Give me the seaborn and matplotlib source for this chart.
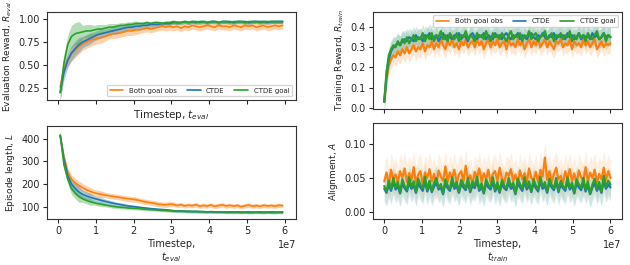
import numpy as np
import pandas as pd
import matplotlib
matplotlib.use("Agg")
import matplotlib.pyplot as plt
import seaborn as sns

sns.set_style("ticks")
plt.rcParams['font.family'] = ['DejaVu Sans']
plt.rcParams['mathtext.fontset'] = 'dejavusans'

labels = ['Both goal obs', 'CTDE', 'CTDE goal']
colors = ['tab:orange', 'tab:blue', 'tab:green']

# evaluation timesteps (x 1e7)
t_eval = np.arange(60) * 0.1 + 0.05
# training timesteps (x 1e7)
t_train = np.arange(101) * 0.06

eval_reward = {
    'Both goal obs': [0.26, 0.46, 0.55, 0.62, 0.66, 0.70, 0.73, 0.75, 0.77, 0.78,
                      0.79, 0.80, 0.81, 0.83, 0.84, 0.84, 0.85, 0.86, 0.87, 0.87,
                      0.88, 0.88, 0.89, 0.90, 0.89, 0.90, 0.91, 0.92, 0.91, 0.92,
                      0.91, 0.92, 0.90, 0.92, 0.91, 0.93, 0.92, 0.91, 0.92, 0.93,
                      0.92, 0.91, 0.93, 0.92, 0.92, 0.91, 0.93, 0.92, 0.91, 0.93,
                      0.92, 0.93, 0.91, 0.92, 0.93, 0.91, 0.92, 0.93, 0.92, 0.93],
    'CTDE': [0.20, 0.42, 0.55, 0.63, 0.68, 0.72, 0.75, 0.77, 0.79, 0.81,
             0.83, 0.84, 0.85, 0.86, 0.87, 0.88, 0.89, 0.90, 0.91, 0.91,
             0.92, 0.92, 0.93, 0.93, 0.94, 0.94, 0.94, 0.95, 0.95, 0.95,
             0.96, 0.96, 0.96, 0.97, 0.96, 0.97, 0.96, 0.97, 0.97, 0.96,
             0.97, 0.97, 0.96, 0.97, 0.97, 0.97, 0.96, 0.97, 0.97, 0.97,
             0.96, 0.97, 0.97, 0.97, 0.97, 0.96, 0.97, 0.97, 0.97, 0.97],
    'CTDE goal': [0.20, 0.52, 0.72, 0.81, 0.84, 0.85, 0.86, 0.87, 0.87, 0.88,
                  0.89, 0.89, 0.90, 0.91, 0.91, 0.92, 0.93, 0.93, 0.94, 0.94,
                  0.95, 0.95, 0.95, 0.96, 0.95, 0.96, 0.96, 0.95, 0.96, 0.96,
                  0.97, 0.96, 0.96, 0.97, 0.96, 0.97, 0.97, 0.96, 0.97, 0.96,
                  0.97, 0.97, 0.96, 0.97, 0.97, 0.96, 0.97, 0.97, 0.97, 0.96,
                  0.97, 0.97, 0.97, 0.96, 0.97, 0.97, 0.97, 0.97, 0.97, 0.97],
}
# band half-widths, one value per 3 eval points
eval_reward_spread = {
    'Both goal obs': [0.06, 0.08, 0.07, 0.06, 0.05, 0.05, 0.05, 0.04, 0.04, 0.04,
                      0.04, 0.04, 0.04, 0.04, 0.04, 0.04, 0.04, 0.04, 0.04, 0.04],
    'CTDE': [0.08, 0.08, 0.06, 0.05, 0.04, 0.04, 0.03, 0.03, 0.03, 0.02,
             0.02, 0.02, 0.02, 0.02, 0.02, 0.02, 0.02, 0.02, 0.02, 0.02],
    'CTDE goal': [0.10, 0.12, 0.07, 0.05, 0.04, 0.03, 0.03, 0.02, 0.02, 0.02,
                  0.02, 0.02, 0.02, 0.02, 0.02, 0.02, 0.02, 0.02, 0.02, 0.02],
}

episode_length = {
    'Both goal obs': [415, 320, 255, 222, 205, 194, 184, 175, 168, 162,
                      158, 155, 152, 149, 146, 144, 141, 138, 136, 134,
                      132, 128, 124, 121, 118, 116, 112, 110, 109, 112,
                      111, 106, 110, 104, 108, 105, 110, 103, 106, 104,
                      108, 102, 106, 109, 104, 107, 103, 106, 101, 105,
                      108, 103, 106, 102, 107, 104, 106, 103, 107, 105],
    'CTDE': [415, 310, 238, 200, 180, 165, 155, 148, 142, 137,
             133, 128, 124, 120, 116, 113, 110, 107, 104, 102,
             100, 98, 96, 94, 92, 91, 89, 88, 87, 85,
             83, 82, 82, 81, 80, 80, 79, 79, 78, 78,
             78, 77, 77, 77, 76, 76, 76, 76, 75, 76,
             75, 75, 76, 75, 75, 76, 75, 75, 76, 75],
    'CTDE goal': [415, 285, 222, 180, 160, 145, 135, 128, 122, 118,
                  114, 111, 108, 105, 102, 100, 98, 97, 95, 94,
                  93, 92, 90, 89, 88, 87, 86, 85, 84, 83,
                  82, 81, 81, 80, 80, 79, 80, 79, 79, 78,
                  79, 78, 78, 78, 77, 78, 77, 78, 77, 77,
                  78, 77, 77, 78, 77, 77, 78, 77, 77, 78],
}
episode_length_spread = {
    'Both goal obs': [15, 20, 18, 15, 12, 12, 12, 12, 12, 12,
                      10, 10, 10, 10, 10, 10, 10, 10, 10, 10],
    'CTDE': [15, 25, 18, 12, 10, 8, 7, 6, 6, 6,
             6, 6, 6, 6, 6, 6, 6, 6, 6, 6],
    'CTDE goal': [20, 25, 15, 10, 8, 7, 6, 6, 6, 6,
                  6, 6, 6, 6, 6, 6, 6, 6, 6, 6],
}

train_reward = {
    'Both goal obs': [0.03, 0.14, 0.21, 0.24, 0.26, 0.25, 0.28, 0.26, 0.29, 0.27,
                      0.30, 0.27, 0.29, 0.31, 0.28, 0.30, 0.29, 0.32, 0.28, 0.31,
                      0.30, 0.33, 0.29, 0.32, 0.30, 0.34, 0.31, 0.29, 0.33, 0.31,
                      0.34, 0.30, 0.32, 0.29, 0.33, 0.31, 0.34, 0.30, 0.32, 0.33,
                      0.30, 0.34, 0.31, 0.33, 0.29, 0.32, 0.34, 0.30, 0.33, 0.31,
                      0.34, 0.30, 0.32, 0.33, 0.29, 0.34, 0.31, 0.32, 0.30, 0.34,
                      0.31, 0.33, 0.29, 0.32, 0.34, 0.30, 0.33, 0.31, 0.35, 0.30,
                      0.32, 0.34, 0.30, 0.33, 0.31, 0.29, 0.33, 0.32, 0.34, 0.30,
                      0.32, 0.31, 0.34, 0.29, 0.33, 0.31, 0.32, 0.30, 0.34, 0.31,
                      0.33, 0.30, 0.32, 0.34, 0.29, 0.31, 0.33, 0.30, 0.32, 0.31,
                      0.32],
    'CTDE': [0.03, 0.16, 0.24, 0.28, 0.30, 0.31, 0.32, 0.31, 0.33, 0.34,
             0.33, 0.35, 0.34, 0.33, 0.36, 0.34, 0.35, 0.33, 0.36, 0.35,
             0.37, 0.34, 0.35, 0.36, 0.33, 0.35, 0.37, 0.34, 0.36, 0.35,
             0.34, 0.36, 0.35, 0.37, 0.34, 0.36, 0.35, 0.33, 0.36, 0.37,
             0.35, 0.34, 0.36, 0.35, 0.37, 0.34, 0.36, 0.35, 0.34, 0.37,
             0.35, 0.36, 0.34, 0.36, 0.37, 0.35, 0.34, 0.36, 0.35, 0.37,
             0.34, 0.36, 0.35, 0.34, 0.36, 0.37, 0.35, 0.34, 0.36, 0.35,
             0.37, 0.35, 0.34, 0.36, 0.35, 0.37, 0.34, 0.36, 0.35, 0.36,
             0.34, 0.37, 0.35, 0.36, 0.34, 0.35, 0.37, 0.34, 0.36, 0.35,
             0.36, 0.34, 0.37, 0.35, 0.36, 0.34, 0.35, 0.37, 0.35, 0.36,
             0.35],
    'CTDE goal': [0.03, 0.18, 0.26, 0.29, 0.31, 0.30, 0.33, 0.31, 0.34, 0.32,
                  0.35, 0.32, 0.34, 0.36, 0.33, 0.35, 0.34, 0.37, 0.33, 0.36,
                  0.34, 0.37, 0.33, 0.36, 0.35, 0.38, 0.34, 0.36, 0.33, 0.37,
                  0.35, 0.34, 0.37, 0.33, 0.36, 0.35, 0.38, 0.34, 0.36, 0.35,
                  0.33, 0.37, 0.35, 0.36, 0.34, 0.38, 0.35, 0.33, 0.37, 0.35,
                  0.36, 0.34, 0.37, 0.35, 0.33, 0.36, 0.38, 0.34, 0.36, 0.35,
                  0.37, 0.33, 0.36, 0.35, 0.38, 0.34, 0.36, 0.37, 0.33, 0.35,
                  0.36, 0.38, 0.34, 0.35, 0.37, 0.33, 0.36, 0.35, 0.37, 0.34,
                  0.36, 0.35, 0.38, 0.33, 0.36, 0.34, 0.37, 0.35, 0.36, 0.33,
                  0.37, 0.35, 0.34, 0.36, 0.38, 0.34, 0.35, 0.37, 0.33, 0.36,
                  0.35],
}
train_reward_spread = {'Both goal obs': 0.045, 'CTDE': 0.045, 'CTDE goal': 0.045}

alignment = {
    'Both goal obs': [0.045, 0.058, 0.040, 0.062, 0.048, 0.055, 0.042, 0.060, 0.050, 0.064,
                      0.044, 0.057, 0.047, 0.066, 0.043, 0.055, 0.060, 0.041, 0.058, 0.050,
                      0.063, 0.045, 0.056, 0.040, 0.061, 0.052, 0.046, 0.067, 0.044, 0.058,
                      0.049, 0.062, 0.042, 0.055, 0.060, 0.045, 0.068, 0.047, 0.054, 0.041,
                      0.059, 0.050, 0.064, 0.044, 0.057, 0.048, 0.062, 0.043, 0.056, 0.060,
                      0.046, 0.065, 0.049, 0.042, 0.058, 0.053, 0.063, 0.045, 0.055, 0.041,
                      0.061, 0.048, 0.057, 0.044, 0.064, 0.050, 0.046, 0.059, 0.043, 0.062,
                      0.052, 0.080, 0.047, 0.060, 0.044, 0.056, 0.065, 0.048, 0.053, 0.042,
                      0.060, 0.049, 0.063, 0.045, 0.057, 0.041, 0.061, 0.051, 0.046, 0.066,
                      0.044, 0.058, 0.050, 0.062, 0.043, 0.056, 0.048, 0.065, 0.047, 0.060,
                      0.050],
    'CTDE': [0.034, 0.028, 0.040, 0.031, 0.044, 0.033, 0.038, 0.027, 0.042, 0.035,
             0.030, 0.043, 0.034, 0.039, 0.028, 0.041, 0.036, 0.031, 0.045, 0.030,
             0.040, 0.029, 0.037, 0.043, 0.033, 0.036, 0.026, 0.042, 0.035, 0.031,
             0.044, 0.034, 0.038, 0.028, 0.041, 0.036, 0.032, 0.043, 0.029, 0.039,
             0.035, 0.045, 0.031, 0.037, 0.027, 0.042, 0.036, 0.033, 0.044, 0.030,
             0.038, 0.028, 0.041, 0.035, 0.032, 0.043, 0.034, 0.037, 0.026, 0.042,
             0.036, 0.031, 0.044, 0.033, 0.039, 0.029, 0.042, 0.035, 0.030, 0.045,
             0.034, 0.038, 0.028, 0.043, 0.036, 0.032, 0.044, 0.029, 0.040, 0.035,
             0.031, 0.044, 0.033, 0.038, 0.027, 0.042, 0.036, 0.032, 0.043, 0.030,
             0.039, 0.026, 0.036, 0.042, 0.031, 0.038, 0.028, 0.045, 0.034, 0.040,
             0.036],
    'CTDE goal': [0.038, 0.030, 0.046, 0.034, 0.050, 0.036, 0.044, 0.029, 0.048, 0.038,
                  0.033, 0.051, 0.037, 0.045, 0.030, 0.049, 0.040, 0.035, 0.052, 0.033,
                  0.046, 0.031, 0.043, 0.050, 0.036, 0.041, 0.028, 0.048, 0.039, 0.034,
                  0.051, 0.037, 0.044, 0.030, 0.047, 0.041, 0.035, 0.050, 0.032, 0.045,
                  0.038, 0.052, 0.034, 0.042, 0.029, 0.048, 0.040, 0.036, 0.051, 0.033,
                  0.044, 0.030, 0.047, 0.039, 0.035, 0.050, 0.037, 0.043, 0.028, 0.049,
                  0.041, 0.034, 0.051, 0.036, 0.045, 0.031, 0.048, 0.039, 0.033, 0.052,
                  0.037, 0.044, 0.030, 0.049, 0.040, 0.035, 0.050, 0.032, 0.046, 0.038,
                  0.034, 0.051, 0.036, 0.043, 0.029, 0.048, 0.041, 0.035, 0.050, 0.033,
                  0.045, 0.027, 0.040, 0.049, 0.034, 0.044, 0.030, 0.053, 0.037, 0.046,
                  0.040],
}
alignment_spread = {'Both goal obs': 0.025, 'CTDE': 0.02, 'CTDE goal': 0.02}


def draw(ax, t, values, spread, rep, band_alpha, lw):
    for name, col in zip(labels, colors):
        y = np.array(values[name], dtype=float)
        s = spread[name]
        if np.ndim(s):
            s = np.repeat(np.array(s, dtype=float), rep)[:len(y)]
        x = t * 1e7
        ax.fill_between(x, y - s, y + s, color=col, alpha=band_alpha, lw=0)
        sns.lineplot(x=x, y=y, ax=ax, color=col, lw=lw, label=name, legend=False)


fig = plt.figure(figsize=(6.3, 2.65), dpi=100)
ax_tl = fig.add_axes([0.0746, 0.623, 0.395, 0.332])
ax_bl = fig.add_axes([0.0746, 0.174, 0.395, 0.351])
ax_tr = fig.add_axes([0.592, 0.589, 0.395, 0.366])
ax_br = fig.add_axes([0.592, 0.174, 0.395, 0.362])

draw(ax_tl, t_eval, eval_reward, eval_reward_spread, 3, 0.35, 1.2)
draw(ax_bl, t_eval, episode_length, episode_length_spread, 3, 0.35, 1.2)
draw(ax_tr, t_train, train_reward, train_reward_spread, 1, 0.18, 1.6)
draw(ax_br, t_train, alignment, alignment_spread, 1, 0.12, 1.6)

ax_tl.set_ylim(0.12, 1.076)
ax_bl.set_ylim(47, 457)
ax_tr.set_ylim(-0.005, 0.475)
ax_br.set_ylim(-0.0103, 0.131)

ax_tl.set_yticks([0.25, 0.5, 0.75, 1.0])
ax_bl.set_yticks([100, 200, 300, 400])
ax_tr.set_yticks([0.0, 0.1, 0.2, 0.3, 0.4])
ax_br.set_yticks([0.0, 0.05, 0.10])
ax_br.set_yticklabels(['0.00', '0.05', '0.10'])

for ax in [ax_tl, ax_bl, ax_tr, ax_br]:
    ax.set_xlim(-0.3e7, 6.3e7)
    ax.set_xticks(np.arange(7) * 1e7)
    ax.tick_params(labelsize=7, length=3, width=0.8, pad=2)
    ax.xaxis.get_offset_text().set_fontsize(7)
    for sp in ax.spines.values():
        sp.set_linewidth(0.8)
        sp.set_color('#333333')

for ax in [ax_tl, ax_tr]:
    ax.tick_params(labelbottom=False)
    ax.xaxis.get_offset_text().set_visible(False)

ax_tl.set_ylabel('Evaluation Reward, $R_{eval}$', fontsize=6.5, labelpad=3)
ax_bl.set_ylabel('Episode length, $L$', fontsize=6.5, labelpad=3)
ax_tr.set_ylabel('Training Reward, $R_{train}$', fontsize=6.5, labelpad=3)
ax_br.set_ylabel('Alignment, $A$', fontsize=6.5, labelpad=3)
ax_tl.set_xlabel('Timestep, $t_{eval}$', fontsize=7.5, labelpad=3)
ax_bl.set_xlabel('Timestep,\n$t_{eval}$', fontsize=7, labelpad=2)
ax_br.set_xlabel('Timestep,\n$t_{train}$', fontsize=7, labelpad=2)
ax_tr.set_xlabel('')

leg_kw = dict(ncol=3, fontsize=5, handlelength=2.0, columnspacing=1.4,
              borderpad=0.4, handletextpad=0.8, frameon=True, fancybox=True)
ax_tl.legend(loc='lower right', **leg_kw)
ax_tr.legend(loc='upper right', **leg_kw)
for leg in [ax_tl.get_legend(), ax_tr.get_legend()]:
    for line in leg.get_lines():
        line.set_linewidth(1.2)

fig.savefig('out.png', dpi=100)
